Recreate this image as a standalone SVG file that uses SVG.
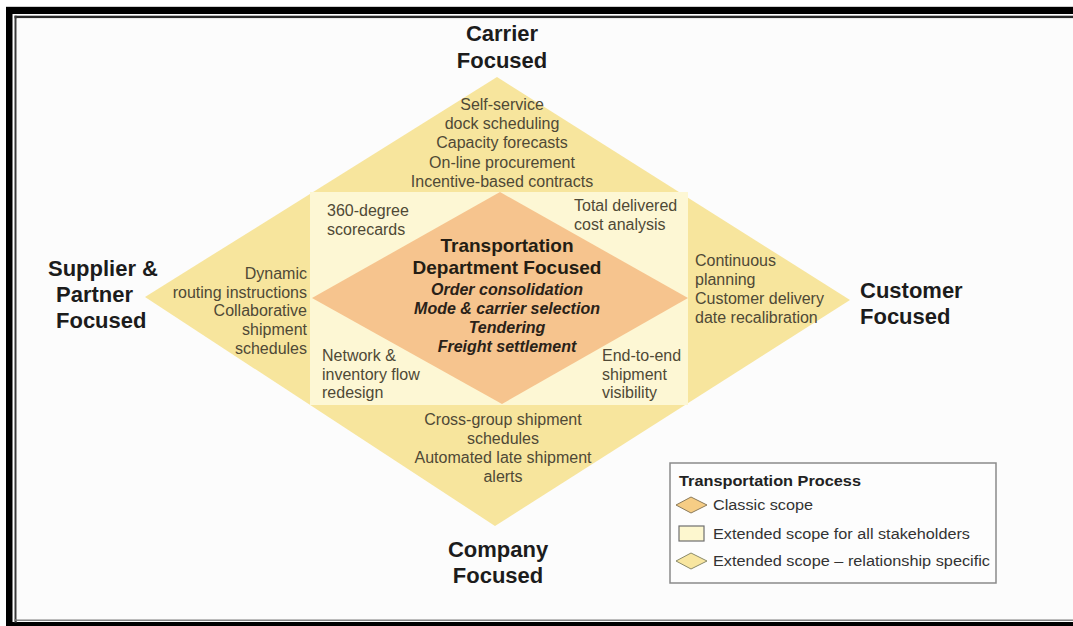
<svg xmlns="http://www.w3.org/2000/svg" width="1073" height="626" viewBox="0 0 1073 626">
<style>
.lbl{font-family:"Liberation Sans",Arial,sans-serif;font-weight:bold;font-size:22px;fill:#1c1c1c}
.sm{font-family:"Liberation Sans",Arial,sans-serif;font-size:16px;fill:#4f4936}
.ttl{font-family:"Liberation Sans",Arial,sans-serif;font-weight:bold;font-size:19px;fill:#241d14}
.it{font-family:"Liberation Sans",Arial,sans-serif;font-weight:bold;font-style:italic;font-size:16px;fill:#2a2218}
.lg{font-family:"Liberation Sans",Arial,sans-serif;font-size:15.5px;fill:#333}
.lgt{font-family:"Liberation Sans",Arial,sans-serif;font-weight:bold;font-size:15px;fill:#222}
.c{text-anchor:middle}
.e{text-anchor:end}
</style>
<!-- frame -->
<rect x="0" y="0" width="1073" height="626" fill="#ffffff"/>
<rect x="6" y="6.5" width="1067" height="1" fill="#a0a0a0"/>
<rect x="6" y="7" width="1067" height="7" fill="#000"/>
<rect x="6" y="7" width="6.5" height="619" fill="#000"/>
<rect x="6" y="622" width="1067" height="4" fill="#000"/>
<rect x="14.5" y="15.7" width="1058.5" height="2.6" fill="#2a2a2a"/>
<rect x="14.5" y="15.7" width="2.2" height="607" fill="#3a3a3a"/>
<rect x="14.5" y="619.3" width="1058.5" height="1.6" fill="#7a7a7a"/>
<rect x="16.7" y="18.3" width="1056.3" height="601" fill="#fcfcfc"/>

<g id="relationship-scope">
<polygon points="497,77 850,300 495,526 145,297" fill="#f7e59d"/>
</g>
<g id="all-stakeholders-scope">
<rect x="310" y="192" width="378" height="213" fill="#fdf7d4"/>
</g>
<g id="classic-scope">
<polygon points="500,192 688,298 502,404 312,298" fill="#f6c48e"/>
</g>

<g id="connectors"/>

<g id="carrier">
<text class="lbl c" x="502" y="41">Carrier</text>
<text class="lbl c" x="502" y="68">Focused</text>
<text class="sm c" x="502" y="110">Self-service</text>
<text class="sm c" x="502" y="129">dock scheduling</text>
<text class="sm c" x="502" y="148">Capacity forecasts</text>
<text class="sm c" x="502" y="168">On-line procurement</text>
<text class="sm c" x="502" y="187">Incentive-based contracts</text>
</g>

<g id="supplier">
<text class="lbl" x="48" y="276">Supplier &amp;</text>
<text class="lbl" x="56" y="302">Partner</text>
<text class="lbl" x="56" y="328">Focused</text>
<text class="sm e" x="307" y="279">Dynamic</text>
<text class="sm e" x="307" y="298">routing instructions</text>
<text class="sm e" x="307" y="316">Collaborative</text>
<text class="sm e" x="307" y="335">shipment</text>
<text class="sm e" x="307" y="354">schedules</text>
</g>

<g id="customer">
<text class="lbl" x="860" y="298">Customer</text>
<text class="lbl" x="860" y="324">Focused</text>
<text class="sm" x="695" y="266">Continuous</text>
<text class="sm" x="695" y="285">planning</text>
<text class="sm" x="695" y="304">Customer delivery</text>
<text class="sm" x="695" y="323">date recalibration</text>
</g>

<g id="company">
<text class="lbl c" x="498" y="557">Company</text>
<text class="lbl c" x="498" y="583">Focused</text>
<text class="sm c" x="503" y="425">Cross-group shipment</text>
<text class="sm c" x="503" y="444">schedules</text>
<text class="sm c" x="503" y="463">Automated late shipment</text>
<text class="sm c" x="503" y="482">alerts</text>
</g>

<g id="extended-all">
<text class="sm" x="327" y="216">360-degree</text>
<text class="sm" x="327" y="235">scorecards</text>
<text class="sm" x="574" y="211">Total delivered</text>
<text class="sm" x="574" y="230">cost analysis</text>
<text class="sm" x="322" y="361">Network &amp;</text>
<text class="sm" x="322" y="380">inventory flow</text>
<text class="sm" x="322" y="398">redesign</text>
<text class="sm" x="602" y="361">End-to-end</text>
<text class="sm" x="602" y="380">shipment</text>
<text class="sm" x="602" y="398">visibility</text>
</g>

<g id="transportation-department">
<text class="ttl c" x="507" y="252">Transportation</text>
<text class="ttl c" x="507" y="274">Department Focused</text>
<text class="it c" x="507" y="295">Order consolidation</text>
<text class="it c" x="507" y="314">Mode &amp; carrier selection</text>
<text class="it c" x="507" y="333">Tendering</text>
<text class="it c" x="507" y="352">Freight settlement</text>
</g>

<g id="legend">
<rect x="670" y="463" width="326" height="120" fill="#fdfdfd" stroke="#8a8a8a" stroke-width="1.5"/>
<text class="lgt" x="679" y="486" textLength="182" lengthAdjust="spacingAndGlyphs">Transportation Process</text>
<polygon points="676,505 691,497 707,505 691,513" fill="#f6cd85" stroke="#8a7a5a" stroke-width="1"/>
<text class="lg" x="713" y="510" textLength="100" lengthAdjust="spacingAndGlyphs">Classic scope</text>
<rect x="679" y="526" width="25" height="15" fill="#fdf7cf" stroke="#6f6f6f" stroke-width="1.2"/>
<text class="lg" x="713" y="539" textLength="257" lengthAdjust="spacingAndGlyphs">Extended scope for all stakeholders</text>
<polygon points="676,561 691,553 707,561 691,569" fill="#f8e6a0" stroke="#8a8a6a" stroke-width="1"/>
<text class="lg" x="713" y="566" textLength="277" lengthAdjust="spacingAndGlyphs">Extended scope – relationship specific</text>
</g>
</svg>
